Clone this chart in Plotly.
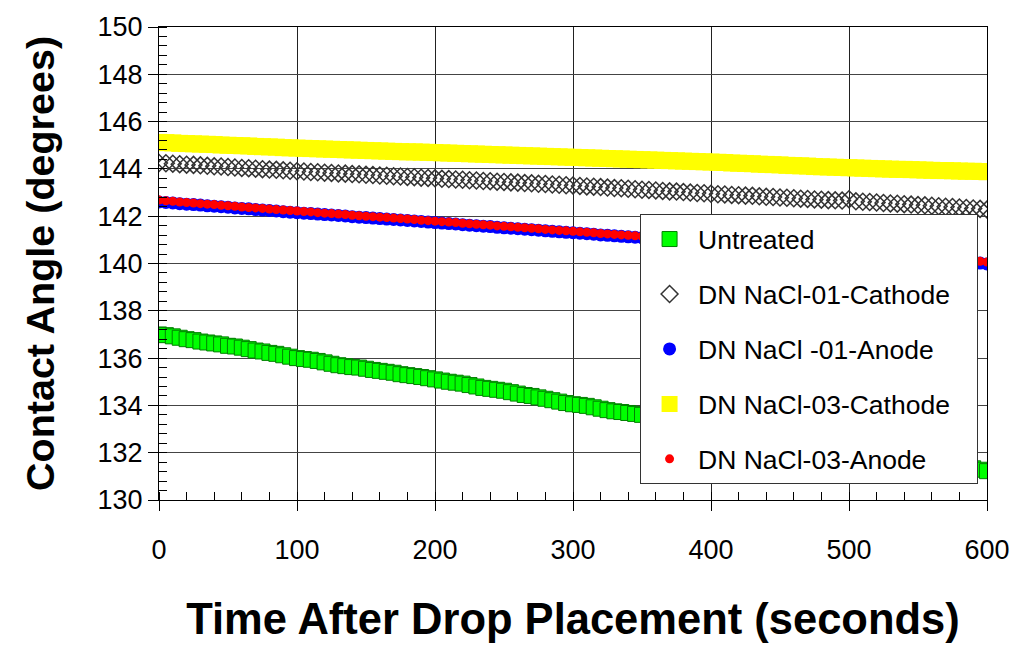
import plotly.graph_objects as go

time_s = list(range(0, 601, 5))

untreated = [
    137.00, 136.97, 136.92, 136.86, 136.80, 136.76, 136.70, 136.66, 136.62, 136.58, 136.52,
    136.49, 136.44, 136.38, 136.32, 136.28, 136.22, 136.18, 136.12, 136.06, 136.00,
    135.96, 135.93, 135.88, 135.82, 135.76, 135.70, 135.66, 135.62, 135.60, 135.55,
    135.50, 135.46, 135.42, 135.38, 135.32, 135.28, 135.24, 135.20, 135.15, 135.10,
    135.05, 135.00, 134.96, 134.92, 134.86, 134.80, 134.74, 134.70, 134.66, 134.62,
    134.56, 134.50, 134.44, 134.40, 134.34, 134.28, 134.22, 134.16, 134.10, 134.05,
    134.02, 133.98, 133.92, 133.86, 133.80, 133.75, 133.72, 133.68, 133.64, 133.60,
    133.55, 133.50, 133.45, 133.40, 133.36, 133.31, 133.26, 133.21, 133.16, 133.12,
    133.07, 133.02, 132.98, 132.93, 132.88, 132.84, 132.79, 132.74, 132.70, 132.65,
    132.60, 132.56, 132.51, 132.46, 132.42, 132.37, 132.32, 132.28, 132.23, 132.18,
    132.13, 132.08, 132.04, 131.99, 131.94, 131.90, 131.85, 131.80, 131.76, 131.71,
    131.66, 131.62, 131.57, 131.52, 131.48, 131.43, 131.38, 131.34, 131.28, 131.22,
]

cathode_01 = [
    144.25, 144.24, 144.22, 144.20, 144.18, 144.17, 144.15, 144.13, 144.11, 144.10, 144.08,
    144.06, 144.04, 144.03, 144.01, 143.99, 143.97, 143.96, 143.94, 143.92, 143.90,
    143.89, 143.87, 143.86, 143.84, 143.83, 143.81, 143.80, 143.78, 143.77, 143.75,
    143.74, 143.72, 143.71, 143.69, 143.68, 143.66, 143.65, 143.63, 143.62, 143.60,
    143.58, 143.57, 143.55, 143.54, 143.52, 143.51, 143.49, 143.48, 143.46, 143.45,
    143.43, 143.42, 143.40, 143.39, 143.37, 143.36, 143.34, 143.33, 143.31, 143.30,
    143.28, 143.26, 143.25, 143.23, 143.21, 143.19, 143.18, 143.16, 143.14, 143.12,
    143.11, 143.09, 143.07, 143.05, 143.04, 143.02, 143.00, 142.98, 142.97, 142.95,
    142.93, 142.92, 142.90, 142.89, 142.87, 142.86, 142.84, 142.82, 142.81, 142.79,
    142.78, 142.76, 142.74, 142.73, 142.71, 142.70, 142.68, 142.67, 142.66, 142.72,
    142.63, 142.61, 142.60, 142.58, 142.56, 142.54, 142.53, 142.51, 142.49, 142.47,
    142.46, 142.44, 142.42, 142.40, 142.39, 142.37, 142.35, 142.33, 142.31, 142.28,
]

anode_01 = [
    142.60, 142.58, 142.56, 142.53, 142.51, 142.49, 142.47, 142.44, 142.42, 142.40, 142.38,
    142.35, 142.33, 142.31, 142.28, 142.26, 142.24, 142.22, 142.19, 142.17, 142.15,
    142.13, 142.11, 142.09, 142.07, 142.05, 142.03, 142.01, 141.98, 141.96, 141.94,
    141.92, 141.90, 141.88, 141.86, 141.84, 141.82, 141.80, 141.78, 141.75, 141.73,
    141.71, 141.69, 141.67, 141.64, 141.62, 141.60, 141.58, 141.56, 141.53, 141.51,
    141.49, 141.47, 141.45, 141.43, 141.41, 141.38, 141.36, 141.34, 141.32, 141.30,
    141.28, 141.26, 141.24, 141.21, 141.19, 141.17, 141.15, 141.13, 141.11, 141.09,
    141.07, 141.05, 141.03, 141.01, 140.99, 140.97, 140.95, 140.93, 140.91, 140.89,
    140.87, 140.84, 140.82, 140.80, 140.78, 140.76, 140.73, 140.71, 140.69, 140.67,
    140.65, 140.62, 140.60, 140.58, 140.56, 140.54, 140.51, 140.49, 140.47, 140.45,
    140.43, 140.40, 140.38, 140.36, 140.34, 140.32, 140.29, 140.27, 140.25, 140.23,
    140.21, 140.18, 140.16, 140.14, 140.12, 140.10, 140.07, 140.05, 140.02, 139.98,
]

cathode_03 = [
    145.12, 145.11, 145.10, 145.08, 145.07, 145.06, 145.05, 145.04, 145.03, 145.01, 145.00,
    144.99, 144.98, 144.97, 144.95, 144.94, 144.93, 144.92, 144.90, 144.89, 144.88,
    144.87, 144.86, 144.85, 144.84, 144.83, 144.82, 144.81, 144.80, 144.79, 144.78,
    144.77, 144.76, 144.75, 144.74, 144.73, 144.72, 144.72, 144.71, 144.70, 144.69,
    144.68, 144.67, 144.66, 144.65, 144.64, 144.63, 144.62, 144.61, 144.60, 144.59,
    144.58, 144.57, 144.56, 144.55, 144.54, 144.53, 144.52, 144.51, 144.50, 144.49,
    144.48, 144.47, 144.46, 144.45, 144.44, 144.43, 144.42, 144.41, 144.40, 144.39,
    144.38, 144.37, 144.36, 144.35, 144.34, 144.33, 144.32, 144.31, 144.30, 144.29,
    144.28, 144.27, 144.25, 144.24, 144.23, 144.22, 144.20, 144.19, 144.18, 144.17,
    144.15, 144.14, 144.13, 144.12, 144.10, 144.09, 144.08, 144.07, 144.06, 144.05,
    144.04, 144.03, 144.02, 144.01, 144.00, 143.99, 143.98, 143.98, 143.97, 143.96,
    143.95, 143.94, 143.93, 143.93, 143.92, 143.91, 143.90, 143.90, 143.89, 143.88,
]

anode_03 = [
    142.68, 142.65, 142.63, 142.60, 142.58, 142.56, 142.53, 142.51, 142.49, 142.46, 142.44,
    142.42, 142.39, 142.37, 142.35, 142.33, 142.30, 142.28, 142.26, 142.24, 142.22,
    142.20, 142.18, 142.15, 142.13, 142.11, 142.09, 142.07, 142.04, 142.02, 142.00,
    141.98, 141.96, 141.94, 141.92, 141.90, 141.88, 141.86, 141.83, 141.81, 141.79,
    141.77, 141.75, 141.73, 141.70, 141.68, 141.66, 141.64, 141.62, 141.59, 141.57,
    141.55, 141.53, 141.51, 141.49, 141.47, 141.44, 141.42, 141.40, 141.38, 141.36,
    141.34, 141.32, 141.30, 141.27, 141.25, 141.23, 141.21, 141.19, 141.17, 141.15,
    141.13, 141.11, 141.09, 141.07, 141.05, 141.03, 141.01, 140.99, 140.97, 140.95,
    140.93, 140.91, 140.89, 140.86, 140.84, 140.82, 140.80, 140.78, 140.76, 140.74,
    140.71, 140.69, 140.67, 140.65, 140.63, 140.61, 140.58, 140.56, 140.54, 140.52,
    140.50, 140.48, 140.45, 140.43, 140.41, 140.39, 140.37, 140.34, 140.32, 140.30,
    140.28, 140.26, 140.23, 140.21, 140.19, 140.17, 140.14, 140.12, 140.09, 140.06,
]

series_names = ["Untreated", "DN NaCl-01-Cathode", "DN NaCl -01-Anode",
                "DN NaCl-03-Cathode", "DN NaCl-03-Anode"]

x_ticks = [0, 100, 200, 300, 400, 500, 600]
y_ticks = [130, 132, 134, 136, 138, 140, 142, 144, 146, 148, 150]

FONT = "Liberation Sans, Arial, sans-serif"
PAD = "\u00a0\u00a0\u00a0"  # keeps the legend box as wide as in the reference

fig = go.Figure()
fig.add_trace(go.Scatter(
    x=time_s, y=untreated, name=series_names[0], mode="markers", legendgroup="a",
    marker=dict(symbol="square", size=15, color="#00FF00", line=dict(color="#008000", width=1))))
fig.add_trace(go.Scatter(
    x=time_s, y=cathode_01, name=series_names[1] + PAD, mode="markers", legendgroup="b",
    marker=dict(symbol="diamond-open", size=13, color="#333333", line=dict(color="#333333", width=1.5))))
fig.add_trace(go.Scatter(
    x=time_s, y=anode_01, name=series_names[2], mode="markers", legendgroup="c",
    marker=dict(symbol="circle", size=13, color="#0000FF", line=dict(width=0))))
fig.add_trace(go.Scatter(
    x=time_s, y=cathode_03, name=series_names[3] + PAD, mode="markers", legendgroup="d",
    marker=dict(symbol="square", size=17, color="#FFFF00", line=dict(width=0))))
fig.add_trace(go.Scatter(
    x=time_s, y=anode_03, name=series_names[4], mode="markers", legendgroup="e",
    marker=dict(symbol="circle", size=9, color="#FF0000", line=dict(width=0))))

fig.update_layout(
    width=1027, height=647,
    margin=dict(l=159, r=40, t=18, b=144),
    paper_bgcolor="white", plot_bgcolor="white",
    font=dict(family=FONT, color="black", size=27),
    showlegend=True,
    legend=dict(
        x=0.581, y=0.604, xanchor="left", yanchor="top",
        bgcolor="white", bordercolor="#333333", borderwidth=1,
        font=dict(family=FONT, size=26.5, color="black"),
        traceorder="grouped", tracegroupgap=17.5, itemwidth=47,
    ),
    xaxis=dict(
        range=[0, 600], tickvals=x_ticks, ticktext=[str(v) for v in x_ticks],
        showgrid=True, gridcolor="#222222", gridwidth=1,
        showline=True, linecolor="black", linewidth=1, mirror=True,
        ticks="outside", ticklen=10, tickcolor="black",
        ticklabelstandoff=16,
        minor=dict(dtick=20, tick0=0, ticks="inside", ticklen=8, tickcolor="black", showgrid=False),
        zeroline=False,
        tickfont=dict(family=FONT, size=27),
        title=dict(text="<b>Time After Drop Placement (seconds)</b>",
                   font=dict(family=FONT, size=43.5), standoff=39),
    ),
    yaxis=dict(
        range=[130, 150], tickvals=y_ticks, ticktext=[str(v) for v in y_ticks],
        showgrid=True, gridcolor="#444444", gridwidth=1,
        showline=True, linecolor="black", linewidth=1, mirror=True,
        ticks="outside", ticklen=10, tickcolor="black",
        minor=dict(dtick=0.4, tick0=130, ticks="inside", ticklen=8, tickcolor="black", showgrid=False),
        zeroline=False,
        tickfont=dict(family=FONT, size=27),
        title=dict(text="<b>Contact Angle (degrees)</b>",
                   font=dict(family=FONT, size=39.5), standoff=30),
    ),
)

fig.write_html("out.html")
